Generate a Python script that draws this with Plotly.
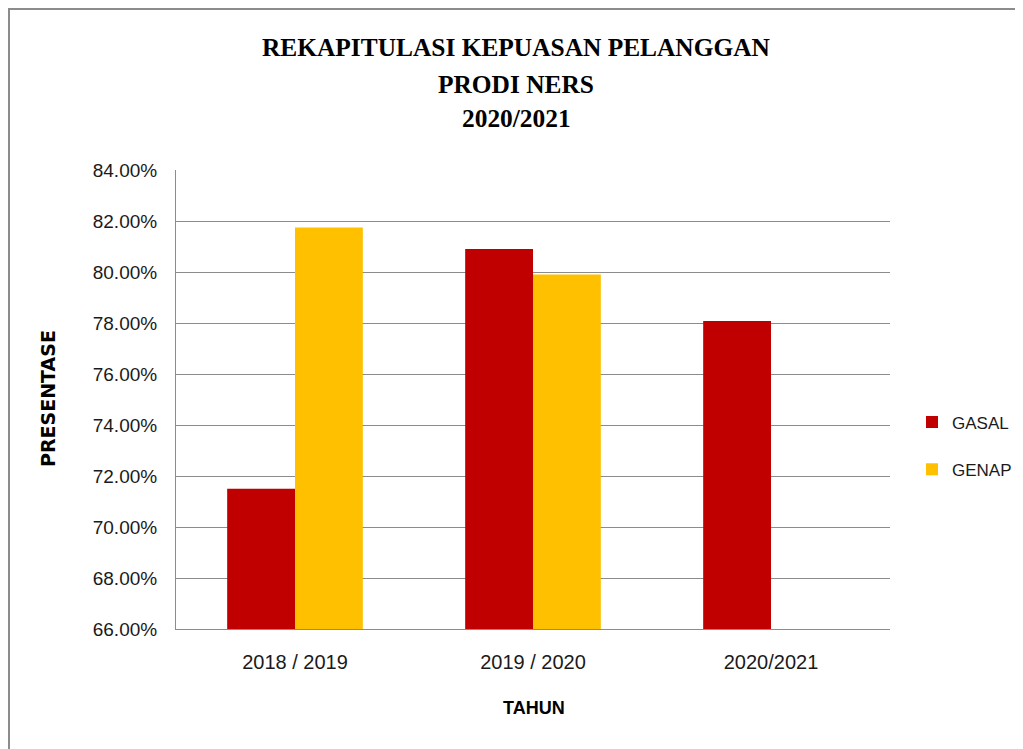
import plotly.graph_objects as go

categories = ["2018 / 2019", "2019 / 2020", "2020/2021"]
gasal = [71.50, 80.90, 78.08]
genap = [81.75, 79.90, None]
series_names = ["GASAL", "GENAP"]
colors = ["#C00000", "#FFC000"]
y_ticks = [66, 68, 70, 72, 74, 76, 78, 80, 82, 84]
title_lines = ["REKAPITULASI KEPUASAN PELANGGAN", "PRODI NERS", "2020/2021"]

OFF = 8  # default body margin of the html page
W, H = 1023 - OFF, 749 - OFF
L, R, T, B = 176 - OFF, 890 - OFF, 170 - OFF, 629 - OFF

def px_x(p):
    return (p - OFF - L) / (R - L)

def px_y(p):
    return (B - (p - OFF)) / (B - T)

fig = go.Figure()
for name, vals, col in zip(series_names, [gasal, genap], colors):
    fig.add_trace(go.Bar(x=categories, y=vals, name=name, marker_color=col,
                         marker_line_width=0, legendgroup=name))

sans = "Liberation Sans Narrow, Arial Narrow, Liberation Sans, Arial, sans-serif"

annotations = []
for line, yc in zip(title_lines, [47, 84, 118]):
    annotations.append(dict(
        text=f"<b>{line}</b>", x=px_x(516), y=px_y(yc), xref="paper", yref="paper",
        xanchor="center", yanchor="middle", showarrow=False,
        font=dict(family="Liberation Serif, Times New Roman, serif", size=25.4, color="black")))
annotations += [
    dict(text="<b>PRESENTASE</b>", textangle=-90,
         x=px_x(48), y=px_y(399), xref="paper", yref="paper",
         xanchor="center", yanchor="middle", showarrow=False,
         font=dict(family="DejaVu Sans, Verdana, sans-serif", size=19, color="black")),
    dict(text="<b>TAHUN</b>",
         x=px_x(534), y=px_y(708), xref="paper", yref="paper",
         xanchor="center", yanchor="middle", showarrow=False,
         font=dict(family="Liberation Sans, Arial, sans-serif", size=18, color="black")),
]

fig.update_layout(
    width=W, height=H,
    margin=dict(l=L, r=W - R, t=T, b=H - B, pad=0, autoexpand=False),
    paper_bgcolor="white", plot_bgcolor="white",
    barmode="group", bargap=0.43, bargroupgap=0,
    showlegend=True,
    legend=dict(x=px_x(912), y=px_y(446), xanchor="left", yanchor="middle",
                font=dict(family=sans, size=17, color="#1a1a1a"),
                tracegroupgap=22, itemwidth=30, bgcolor="rgba(0,0,0,0)"),
    xaxis=dict(showgrid=False, showline=True, linecolor="#8c8c8c", linewidth=1,
               tickfont=dict(family=sans, size=20, color="#1a1a1a"),
               ticks="outside", ticklen=15, tickcolor="white"),
    yaxis=dict(range=[66, 84], tickvals=y_ticks,
               ticktext=[f"{v:.2f}%" for v in y_ticks],
               showgrid=True, gridcolor="#8c8c8c", gridwidth=1,
               showline=True, linecolor="#8c8c8c", linewidth=1,
               zeroline=False, tickfont=dict(family=sans, size=19, color="#1a1a1a"),
               ticks="outside", ticklen=14, tickcolor="white"),
    annotations=annotations,
    shapes=[
        dict(type="rect", xref="paper", yref="paper",
             x0=px_x(OFF + 1), x1=px_x(1018), y0=px_y(760), y1=px_y(OFF + 1),
             line=dict(color="#8c8c8c", width=2), fillcolor="rgba(0,0,0,0)", layer="below"),
    ],
)

fig.write_html("out.html")
